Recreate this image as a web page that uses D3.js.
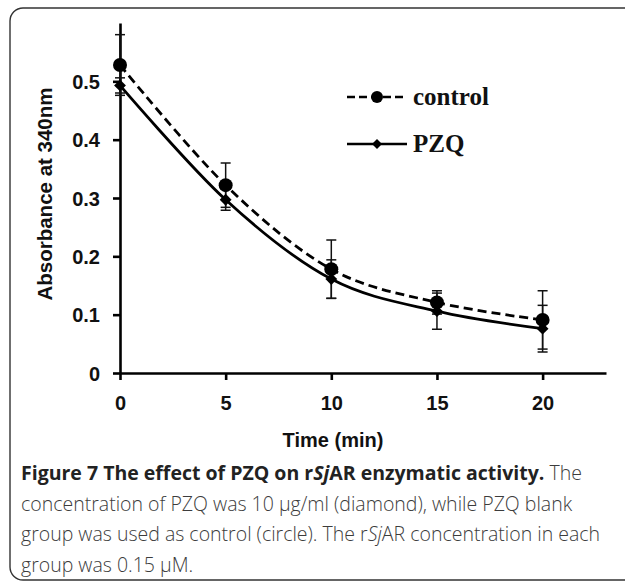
<!DOCTYPE html>
<html>
<head>
<meta charset="utf-8">
<script src="https://cdn.jsdelivr.net/npm/d3@7"></script>
<style>
body{margin:0;background:#fff;}
</style>
</head>
<body>
<div class="chart"></div>
<script>
const time = [0, 5, 10, 15, 20];
const control = [0.528, 0.322, 0.178, 0.121, 0.091];
const controlErr = [0.052, 0.038, 0.05, 0.02, 0.05];
const pzq = [0.493, 0.297, 0.161, 0.106, 0.076];
const pzqErr = [0.013, 0.018, 0.033, 0.031, 0.04];
const xTicks = [0, 5, 10, 15, 20];
const yTicks = [0, 0.1, 0.2, 0.3, 0.4, 0.5];
const seriesNames = ["control", "PZQ"];

const W = 625, H = 583;

const svg = d3.select(".chart").append("svg")
    .attr("width", W)
    .attr("height", H);

svg.append("rect")
    .attr("x", 10).attr("y", 8)
    .attr("width", 660).attr("height", 572)
    .attr("rx", 13)
    .attr("fill", "none")
    .attr("stroke", "#333")
    .attr("stroke-width", 1.4);

const xScale = d3.scaleLinear().domain([0, 23]).range([120, 606]);
const yScale = d3.scaleLinear().domain([0, 0.6]).range([373, 23]);

const xAxis = d3.axisBottom(xScale)
    .tickValues(xTicks)
    .tickSize(7)
    .tickPadding(20)
    .tickSizeOuter(0);
const gx = svg.append("g")
    .attr("class", "axis x-axis")
    .attr("transform", `translate(0, ${yScale(0)})`)
    .call(xAxis);

const yAxis = d3.axisLeft(yScale)
    .tickValues(yTicks)
    .tickFormat(d => d === 0 ? "0" : d3.format(".1f")(d))
    .tickSize(7)
    .tickPadding(13)
    .tickSizeOuter(0);
const gy = svg.append("g")
    .attr("class", "axis y-axis")
    .attr("transform", `translate(${xScale(0)}, 0)`)
    .call(yAxis);

svg.selectAll(".axis path, .axis line")
    .attr("stroke", "#000")
    .attr("stroke-width", 2.6);
svg.selectAll(".axis text")
    .attr("font-family", "Liberation Sans, Arial, sans-serif")
    .attr("font-weight", "bold")
    .attr("font-size", 20)
    .attr("fill", "#111");
gx.selectAll("text").attr("dy", "0.5em");
gy.selectAll("text").attr("dy", "0.36em");

svg.append("text")
    .attr("x", 333)
    .attr("y", 447)
    .attr("text-anchor", "middle")
    .attr("font-family", "Liberation Sans, Arial, sans-serif")
    .attr("font-weight", "bold")
    .attr("font-size", 20)
    .attr("fill", "#111")
    .text("Time (min)");

svg.append("text")
    .attr("transform", "translate(52,194) rotate(-90)")
    .attr("text-anchor", "middle")
    .attr("font-family", "Liberation Sans, Arial, sans-serif")
    .attr("font-weight", "bold")
    .attr("font-size", 20.5)
    .attr("fill", "#111")
    .text("Absorbance at 340nm");

const rows = time.map((t, i) => ({t, c: control[i], ce: controlErr[i], p: pzq[i], pe: pzqErr[i]}));

const line = d3.line()
    .x(d => xScale(d[0]))
    .y(d => yScale(d[1]))
    .curve(d3.curveCardinal.tension(0));

// error bars
const errs = rows.flatMap(d => [[d.t, d.c, d.ce], [d.t, d.p, d.pe]]);
const eb = svg.selectAll(".err").data(errs).enter().append("g").attr("class", "err")
    .attr("stroke", "#111").attr("stroke-width", 1.5);
eb.append("line")
    .attr("x1", d => xScale(d[0])).attr("x2", d => xScale(d[0]))
    .attr("y1", d => yScale(d[1] + d[2])).attr("y2", d => yScale(d[1] - d[2]));
eb.append("line")
    .attr("x1", d => xScale(d[0]) - 5).attr("x2", d => xScale(d[0]) + 5)
    .attr("y1", d => yScale(d[1] + d[2])).attr("y2", d => yScale(d[1] + d[2]));
eb.append("line")
    .attr("x1", d => xScale(d[0]) - 5).attr("x2", d => xScale(d[0]) + 5)
    .attr("y1", d => yScale(d[1] - d[2])).attr("y2", d => yScale(d[1] - d[2]));

svg.append("path")
    .datum(rows.map(d => [d.t, d.c]))
    .attr("d", line)
    .attr("fill", "none")
    .attr("stroke", "#000")
    .attr("stroke-width", 2.8)
    .attr("stroke-dasharray", "9,5");

svg.append("path")
    .datum(rows.map(d => [d.t, d.p]))
    .attr("d", line)
    .attr("fill", "none")
    .attr("stroke", "#000")
    .attr("stroke-width", 2.8);

const diamond = d3.symbol().type(d3.symbolSquare).size(70);

svg.selectAll(".pt-c").data(rows).enter().append("circle")
    .attr("class", "pt-c")
    .attr("cx", d => xScale(d.t))
    .attr("cy", d => yScale(d.c))
    .attr("r", 7)
    .attr("fill", "#000");

svg.selectAll(".pt-p").data(rows).enter().append("path")
    .attr("class", "pt-p")
    .attr("d", diamond)
    .attr("transform", d => `translate(${xScale(d.t)},${yScale(d.p)}) rotate(45)`)
    .attr("fill", "#000");

// legend
const legend = svg.append("g");
const legY = [97, 144];
legend.selectAll(".leg-line").data(seriesNames).enter().append("line")
    .attr("x1", 347).attr("x2", 407)
    .attr("y1", (d, i) => legY[i]).attr("y2", (d, i) => legY[i])
    .attr("stroke", "#000")
    .attr("stroke-width", 2.6)
    .attr("stroke-dasharray", (d, i) => i === 0 ? "8,4" : null);
legend.append("circle")
    .attr("cx", 377).attr("cy", legY[0]).attr("r", 6).attr("fill", "#000");
legend.append("path")
    .attr("d", d3.symbol().type(d3.symbolSquare).size(50))
    .attr("transform", `translate(377,${legY[1]}) rotate(45)`)
    .attr("fill", "#000");
legend.selectAll(".leg-label").data(seriesNames).enter().append("text")
    .attr("x", 413)
    .attr("y", (d, i) => legY[i] + 8)
    .attr("font-family", "Liberation Serif, Times New Roman, serif")
    .attr("font-weight", "bold")
    .attr("font-size", 25)
    .attr("fill", "#111")
    .text(d => d);

// caption
const caption = [
    [["Figure 7 The effect of PZQ on r", "b"], ["Sj", "bi"], ["AR enzymatic activity.", "b"], [" The", ""]],
    [["concentration of PZQ was 10 \u00b5g/ml (diamond), while PZQ blank", ""]],
    [["group was used as control (circle). The r", ""], ["Sj", "i"], ["AR concentration in each", ""]],
    [["group was 0.15 \u00b5M.", ""]]
];
const cap = svg.append("g")
    .attr("font-family", "Open Sans, Noto Sans, sans-serif")
    .attr("font-size", 19.5);
cap.selectAll("text").data(caption).enter().append("text")
    .attr("x", 21)
    .attr("y", (d, i) => 480 + i * 30.5)
    .each(function(parts) {
        d3.select(this).selectAll("tspan").data(parts).enter().append("tspan")
            .attr("font-weight", d => d[1].includes("b") ? "bold" : 300)
            .attr("font-style", d => d[1].includes("i") ? "italic" : "normal")
            .attr("fill", d => d[1].includes("b") ? "#222" : "#3c3c3c")
            .text(d => d[0]);
    });
</script>
</body>
</html>
